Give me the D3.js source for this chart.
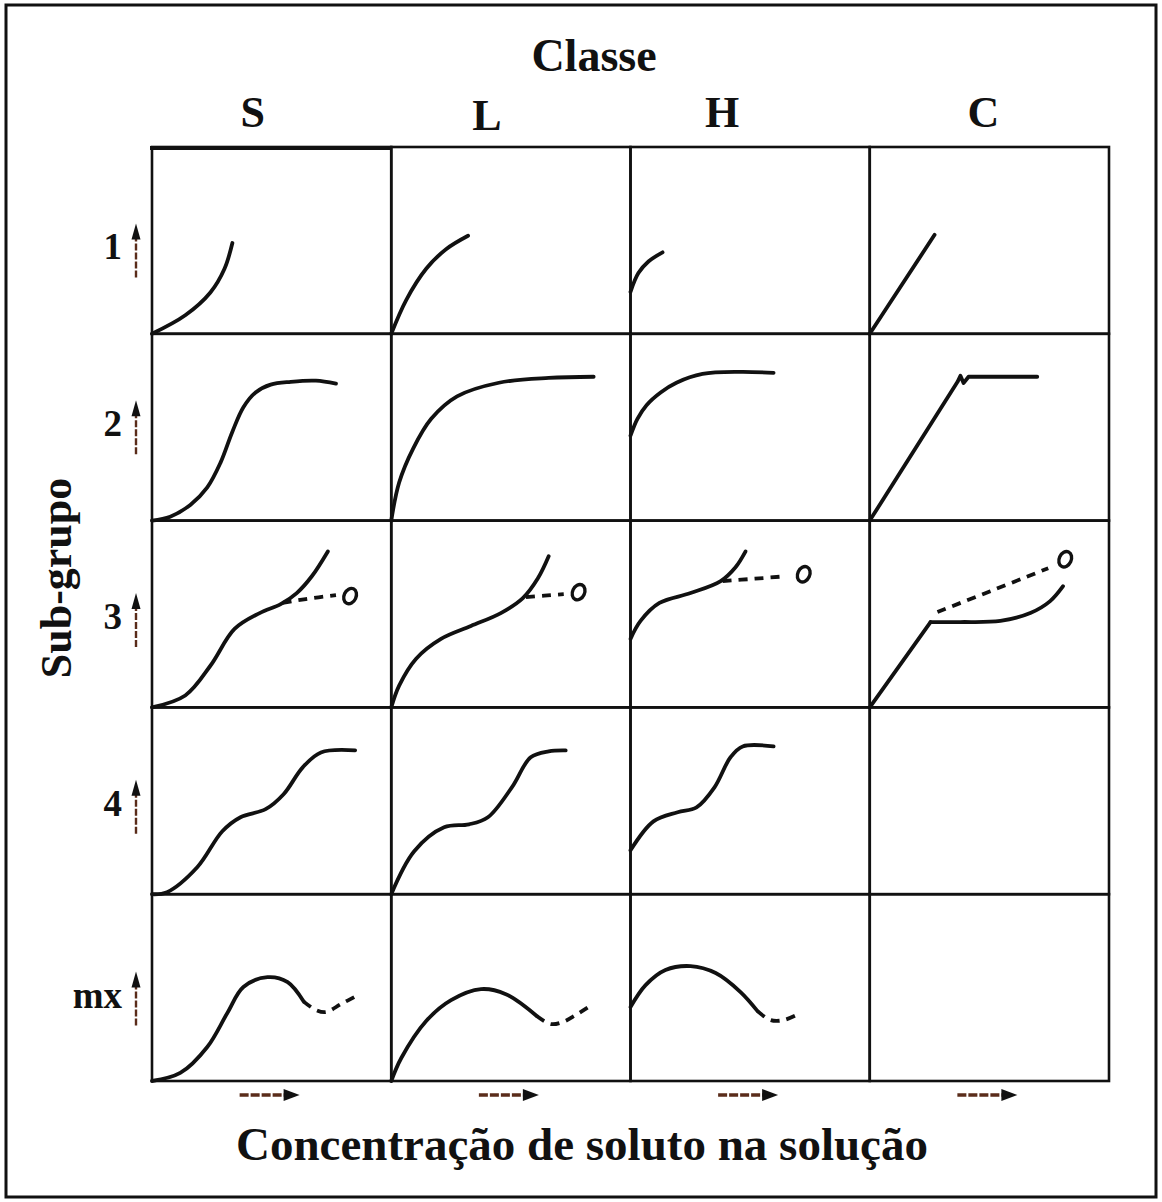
<!DOCTYPE html>
<html>
<head>
<meta charset="utf-8">
<script src="https://cdn.jsdelivr.net/npm/d3@7"></script>
<style>
  html, body { margin: 0; padding: 0; background: #fff; }
  svg { display: block; }
  text { font-family: "Liberation Serif", "Times New Roman", serif; fill: #111; }
</style>
</head>
<body>
<svg id="chart" width="1162" height="1202"></svg>
<script>
// Giles classification of adsorption isotherms: classes (columns) x sub-groups (rows).
// Each curve is given in cell units: x = solute concentration (0-100), y = amount adsorbed (0-100).
const classes = ["S", "L", "H", "C"];
const subgroups = ["1", "2", "3", "4", "mx"];

// Sub-group 1
const curveS1 = [[0,0],[13.9,9.9],[24.4,22.1],[30.3,34.8],[33.6,48.6]];
const curveL1 = [[0,0],[6.3,18.2],[14.6,34.8],[22.9,45.3],[32.1,52.5]];
const curveH1 = [[0,22.5],[3.3,32.5],[7.5,38.7],[13.4,43.6]];
const curveC1 = [[0,0],[27.1,53.0]];

// Sub-group 2
const curveS2 = [[0,0],[7.6,2.1],[16.0,8.4],[23.1,17.8],[28.6,30.9],[33.6,47.6],[38.2,60.7],[43.3,68.6],[49.6,72.8],[58.0,74.3],[68.5,74.9],[76.9,73.3]];
const curveL2 = [[0,0],[3.3,20.4],[9.2,38.7],[16.7,54.5],[27.5,66.5],[45.0,73.8],[65.8,76.4],[84.6,77.0]];
const curveH2 = [[0,45.5],[2.9,54.5],[6.7,61.8],[12.6,68.6],[19.2,73.8],[30.1,78.5],[46.0,79.6],[59.8,79.1]];
const curveC2 = [[0,0],[36.7,74.3],[37.9,77.5],[39.2,73.6],[41.3,77.0],[70.0,77.0]];

// Sub-group 3 (solid rise, dashed branch ending in an open mark)
const curveS3 = [[0,0],[13.9,6.4],[24.4,22.3],[34.5,42.0],[45.0,50.5],[53.8,55.3],[60.5,61.2],[66.8,70.2],[73.5,83.5]];
const branchS3 = [[54.6,55.9],[64.3,58.0],[76.9,60.1]];
const endS3 = [82.8, 59.6];
const curveL3 = [[0,0],[3.3,11.7],[10.4,26.1],[20.8,36.7],[33.3,43.6],[45.8,50.5],[55.0,58.5],[61.3,69.1],[65.8,80.9]];
const branchL3 = [[56.3,59.0],[64.0,59.8],[72.1,60.6]];
const endL3 = [78.3, 61.7];
const curveH3 = [[0,36.7],[4.2,46.3],[12.1,55.9],[25.1,61.2],[37.7,67.6],[43.9,75.0],[48.1,83.5]];
const branchH3 = [[38.5,67.6],[52.0,68.9],[64.9,70.2]];
const endH3 = [72.4, 71.3];
const curveC3 = [[0,0],[25.4,45.7]];
const bendC3 = [[25.4,45.7],[37.9,45.7],[54.6,46.3],[67.1,50.5],[75.4,56.9],[80.8,64.9]];
const branchC3 = [[28.3,51.1],[50.4,62.2],[74.6,74.5]];
const endC3 = [81.7, 79.3];

// Sub-group 4
const curveS4 = [[0,0],[6.3,1.1],[18.9,14.4],[29.4,33.7],[37.0,41.2],[47.5,45.5],[55.0,53.5],[63.0,67.9],[70.6,75.9],[84.9,77.0]];
const curveL4 = [[0,0],[9.6,23.0],[22.1,35.8],[32.5,37.4],[40.4,41.2],[50.4,57.2],[58.3,73.3],[65.8,76.5],[72.9,77.0]];
const curveH4 = [[0,23.5],[9.6,39.0],[19.7,43.9],[27.6,46.5],[35.1,57.2],[41.8,73.3],[46.9,79.1],[59.8,79.1]];

// Sub-group mx (maximum)
const curveSmx = [[0,0],[11.8,4.3],[23.1,18.2],[31.5,36.4],[38.2,50.3],[48.3,55.6],[56.7,52.9],[63.4,42.5]];
const tailSmx = [[63.4,42.5],[68.5,38.0],[72.7,36.9],[79.0,41.2],[86.1,46.0]];
const curveLmx = [[0,0],[4.2,12.3],[14.6,32.1],[25.0,43.3],[37.5,49.2],[47.9,46.5],[60.8,34.8]];
const tailLmx = [[60.8,34.8],[66.7,30.5],[71.7,31.6],[77.1,35.3],[82.5,39.6]];
const curveHmx = [[0,39.6],[6.3,51.3],[14.6,59.4],[25.1,61.5],[35.6,57.8],[46.0,47.6],[53.1,37.4]];
const tailHmx = [[53.1,37.4],[58.6,32.6],[64.0,32.6],[71.1,36.4]];

// Table of what is drawn in each cell
const isotherms = [
  {cls:"S", sub:"1", solid:[curveS1]},
  {cls:"L", sub:"1", solid:[curveL1]},
  {cls:"H", sub:"1", solid:[curveH1]},
  {cls:"C", sub:"1", lines:[curveC1]},
  {cls:"S", sub:"2", solid:[curveS2]},
  {cls:"L", sub:"2", solid:[curveL2]},
  {cls:"H", sub:"2", solid:[curveH2]},
  {cls:"C", sub:"2", lines:[curveC2]},
  {cls:"S", sub:"3", solid:[curveS3], dashed:[branchS3], ends:[endS3]},
  {cls:"L", sub:"3", solid:[curveL3], dashed:[branchL3], ends:[endL3]},
  {cls:"H", sub:"3", solid:[curveH3], dashed:[branchH3], ends:[endH3]},
  {cls:"C", sub:"3", lines:[curveC3], solid:[bendC3], dashed:[branchC3], ends:[endC3]},
  {cls:"S", sub:"4", solid:[curveS4]},
  {cls:"L", sub:"4", solid:[curveL4]},
  {cls:"H", sub:"4", solid:[curveH4]},
  {cls:"S", sub:"mx", solid:[curveSmx], dashed:[tailSmx]},
  {cls:"L", sub:"mx", solid:[curveLmx], dashed:[tailLmx]},
  {cls:"H", sub:"mx", solid:[curveHmx], dashed:[tailHmx]}
];

const svg = d3.select("#chart");
const ink = "#111";
const arrowInk = "#5a2c1a";

// Outer frame
svg.append("rect")
  .attr("x", 6).attr("y", 5).attr("width", 1150).attr("height", 1192)
  .attr("fill", "none").attr("stroke", ink).attr("stroke-width", 3);

// Grid layout
const colScale = d3.scaleBand().domain(classes).range([152, 1109]);
const rowScale = d3.scaleBand().domain(subgroups).range([147, 1081]);
const cw = colScale.bandwidth(), rh = rowScale.bandwidth();

// Titles
svg.append("text").attr("x", 594).attr("y", 71).attr("text-anchor", "middle")
  .style("font-size", "46px").style("font-weight", "bold").text("Classe");

const headOffset = {S: -19, L: -24, H: -28, C: -6};
const headBase = {S: 127, L: 130, H: 127, C: 127};
svg.selectAll("text.cls").data(classes).join("text")
  .attr("class", "cls")
  .attr("x", d => colScale(d) + cw / 2 + headOffset[d])
  .attr("y", d => headBase[d])
  .attr("text-anchor", "middle")
  .style("font-size", "44px").style("font-weight", "bold")
  .text(d => d);

svg.append("text")
  .attr("transform", "translate(71,578) rotate(-90)")
  .attr("text-anchor", "middle")
  .style("font-size", "44px").style("font-weight", "bold")
  .text("Sub-grupo");

svg.append("text").attr("x", 582).attr("y", 1160).attr("text-anchor", "middle")
  .style("font-size", "47px").style("font-weight", "bold")
  .text("Concentração de soluto na solução");

// Row labels with small upward arrows
const rowLabelShift = {"1": 19, "2": 9, "3": 15, "4": 15, "mx": 20};
const rowG = svg.selectAll("g.row").data(subgroups).join("g").attr("class", "row")
  .attr("transform", d => `translate(0,${rowScale(d) + rh / 2 + rowLabelShift[d]})`);
rowG.append("text").attr("x", 122).attr("y", 0).attr("text-anchor", "end")
  .style("font-size", "37px").style("font-weight", "bold").text(d => d);
rowG.append("line").attr("x1", 136).attr("x2", 136).attr("y1", 18).attr("y2", -22)
  .attr("stroke", arrowInk).attr("stroke-width", 2.4).attr("stroke-dasharray", "7,2");
rowG.append("path").attr("d", "M136,-36 L131.5,-20 L140.5,-20 Z").attr("fill", ink);

// Column arrows (increasing concentration)
const colG = svg.selectAll("g.colArrow").data(classes).join("g").attr("class", "colArrow")
  .attr("transform", d => `translate(${colScale(d) + cw / 2},1095)`);
colG.append("line").attr("x1", -32).attr("x2", 14).attr("y1", 0).attr("y2", 0)
  .attr("stroke", arrowInk).attr("stroke-width", 3.4).attr("stroke-dasharray", "9,2");
colG.append("path").attr("d", "M28,0 L12,-6 L12,6 Z").attr("fill", ink);

// Cells
const cellG = svg.append("g");
subgroups.forEach(s => {
  classes.forEach(c => {
    cellG.append("rect")
      .attr("x", colScale(c)).attr("y", rowScale(s))
      .attr("width", cw).attr("height", rh)
      .attr("fill", "none").attr("stroke", ink).attr("stroke-width", 2.6);
  });
});
// heavier top edge of the grid
svg.append("line").attr("x1", 150).attr("x2", 390).attr("y1", 148).attr("y2", 148)
  .attr("stroke", ink).attr("stroke-width", 4);

// Curves
const curveG = svg.append("g").attr("fill", "none").attr("stroke", ink)
  .attr("stroke-linecap", "round").attr("stroke-linejoin", "round");

isotherms.forEach(iso => {
  const x = d3.scaleLinear().domain([0, 100]).range([colScale(iso.cls), colScale(iso.cls) + cw]);
  const y = d3.scaleLinear().domain([0, 100]).range([rowScale(iso.sub) + rh, rowScale(iso.sub)]);
  const smooth = d3.line().x(d => x(d[0])).y(d => y(d[1])).curve(d3.curveCatmullRom.alpha(0.5));
  const straight = d3.line().x(d => x(d[0])).y(d => y(d[1])).curve(d3.curveLinear);

  (iso.lines || []).forEach(p => curveG.append("path").attr("d", straight(p)).attr("stroke-width", 3.8));
  (iso.solid || []).forEach(p => curveG.append("path").attr("d", smooth(p)).attr("stroke-width", 3.8));
  (iso.dashed || []).forEach(p => curveG.append("path").attr("d", smooth(p))
    .attr("stroke-width", 3.8).attr("stroke-dasharray", "9,7").attr("stroke-linecap", "butt"));
  (iso.ends || []).forEach(p => curveG.append("ellipse")
    .attr("cx", x(p[0])).attr("cy", y(p[1])).attr("rx", 6).attr("ry", 8)
    .attr("transform", `rotate(25,${x(p[0])},${y(p[1])})`)
    .attr("stroke-width", 3.4));
});
</script>
</body>
</html>
